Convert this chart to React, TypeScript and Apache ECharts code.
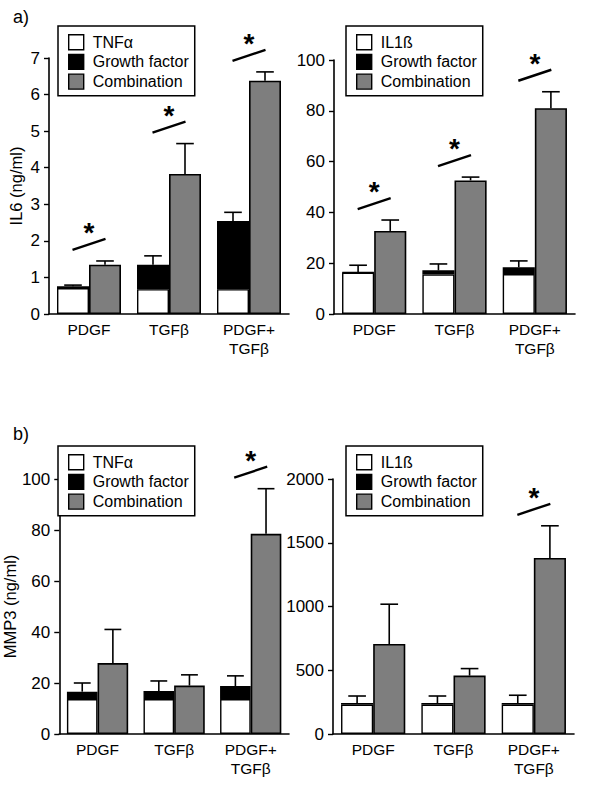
import React, { useEffect, useRef } from "react";
import * as echarts from "echarts";

const FONT = "'Liberation Sans', Arial, Helvetica, sans-serif";

const categories = ["PDGF", "TGFβ", "PDGF+\nTGFβ"];

// Panel a) left: IL6, TNFα
const il6TnfBase = [0.71, 0.68, 0.68];
const il6TnfGrowth = [0.76, 1.35, 2.54];
const il6TnfGrowthErr = [0.03, 0.24, 0.24];
const il6TnfComb = [1.35, 3.83, 6.38];
const il6TnfCombErr = [0.1, 0.83, 0.24];
const il6TnfSig = [true, true, true];

// Panel a) right: IL6, IL1ß
const il6Il1bBase = [16.3, 15.6, 15.7];
const il6Il1bGrowth = [16.5, 17.2, 18.4];
const il6Il1bGrowthErr = [2.7, 2.5, 2.5];
const il6Il1bComb = [32.7, 52.6, 81.0];
const il6Il1bCombErr = [4.3, 1.3, 6.5];
const il6Il1bSig = [true, true, true];

// Panel b) left: MMP3, TNFα
const mmpTnfBase = [13.7, 13.7, 13.7];
const mmpTnfGrowth = [16.6, 16.9, 18.8];
const mmpTnfGrowthErr = [3.4, 3.9, 4.0];
const mmpTnfComb = [27.8, 19.0, 78.5];
const mmpTnfCombErr = [13.2, 4.2, 17.7];
const mmpTnfSig = [false, false, true];

// Panel b) right: MMP3, IL1ß
const mmpIl1bBase = [230, 230, 230];
const mmpIl1bGrowth = [243, 243, 243];
const mmpIl1bGrowthErr = [55, 55, 61];
const mmpIl1bComb = [706, 458, 1381];
const mmpIl1bCombErr = [312, 55, 252];
const mmpIl1bSig = [false, false, true];

// axis scales
const il6TnfAxis = { max: 7, interval: 1 };
const il6Il1bAxis = { max: 100, interval: 20 };
const mmpTnfAxis = { max: 100, interval: 20 };
const mmpIl1bAxis = { max: 2000, interval: 500 };

const GRAY = "#7e7e7e";

type Panel = {
  cytokine: string;
  base: number[];
  growth: number[];
  growthErr: number[];
  comb: number[];
  combErr: number[];
  sig: boolean[];
  axis: { max: number; interval: number };
  yName: string;
  nameGap: number;
  grid: { left: number; top: number; width: number; height: number };
  legend: { left: number; top: number };
};

const panels: Panel[] = [
  {
    cytokine: "TNFα",
    base: il6TnfBase,
    growth: il6TnfGrowth,
    growthErr: il6TnfGrowthErr,
    comb: il6TnfComb,
    combErr: il6TnfCombErr,
    sig: il6TnfSig,
    axis: il6TnfAxis,
    yName: "IL6 (ng/ml)",
    nameGap: 25,
    grid: { left: 49, top: 58, width: 240, height: 256 },
    legend: { left: 58, top: 26 },
  },
  {
    cytokine: "IL1ß",
    base: il6Il1bBase,
    growth: il6Il1bGrowth,
    growthErr: il6Il1bGrowthErr,
    comb: il6Il1bComb,
    combErr: il6Il1bCombErr,
    sig: il6Il1bSig,
    axis: il6Il1bAxis,
    yName: "",
    nameGap: 24,
    grid: { left: 334, top: 60, width: 241, height: 254 },
    legend: { left: 346, top: 26 },
  },
  {
    cytokine: "TNFα",
    base: mmpTnfBase,
    growth: mmpTnfGrowth,
    growthErr: mmpTnfGrowthErr,
    comb: mmpTnfComb,
    combErr: mmpTnfCombErr,
    sig: mmpTnfSig,
    axis: mmpTnfAxis,
    yName: "MMP3 (ng/ml)",
    nameGap: 28,
    grid: { left: 49, top: 479, width: 240, height: 255 },
    legend: { left: 58, top: 446 },
  },
  {
    cytokine: "IL1ß",
    base: mmpIl1bBase,
    growth: mmpIl1bGrowth,
    growthErr: mmpIl1bGrowthErr,
    comb: mmpIl1bComb,
    combErr: mmpIl1bCombErr,
    sig: mmpIl1bSig,
    axis: mmpIl1bAxis,
    yName: "",
    nameGap: 24,
    grid: { left: 333, top: 479, width: 241, height: 255 },
    legend: { left: 346, top: 446 },
  },
];

function errorRender(params: any, api: any) {
  const cat = api.value(0);
  const top = api.value(1);
  const err = api.value(2);
  const side = api.value(3);
  const p0 = api.coord([cat, top]);
  const p1 = api.coord([cat, top + err]);
  const band = api.size([1, 0])[0];
  const bw = band * 0.4;
  const x = p0[0] + (side * bw) / 2;
  const cap = bw * 0.55;
  const style = { stroke: "#000", lineWidth: 1.6 };
  return {
    type: "group",
    children: [
      { type: "line", shape: { x1: x, y1: p0[1], x2: x, y2: p1[1] }, style },
      { type: "line", shape: { x1: x - cap / 2, y1: p1[1], x2: x + cap / 2, y2: p1[1] }, style },
    ],
  };
}

function sigRender(params: any, api: any) {
  const cat = api.value(0);
  const top = api.value(1);
  const p = api.coord([cat, top]);
  const cx = p[0];
  const y0 = p[1] - 16.5;
  return {
    type: "group",
    children: [
      {
        type: "line",
        shape: { x1: cx - 16.5, y1: y0 + 5.5, x2: cx + 16.5, y2: y0 - 5.5 },
        style: { stroke: "#000", lineWidth: 2.4 },
      },
      {
        type: "text",
        x: cx,
        y: y0 - 12,
        style: {
          text: "*",
          fontSize: 28,
          fontWeight: "bold",
          fontFamily: FONT,
          fill: "#000",
          align: "center",
          verticalAlign: "middle",
        },
      },
    ],
  };
}

function buildOption() {
  const grid: any[] = [];
  const xAxis: any[] = [];
  const yAxis: any[] = [];
  const legend: any[] = [];
  const series: any[] = [];

  panels.forEach((pn, i) => {
    grid.push({ ...pn.grid, containLabel: false });
    xAxis.push({
      type: "category",
      gridIndex: i,
      data: categories,
      axisLine: { lineStyle: { color: "#000", width: 1.6 } },
      axisTick: { show: false },
      axisLabel: {
        interval: 0,
        color: "#000",
        fontSize: 15.5,
        fontFamily: FONT,
        lineHeight: 19,
        margin: 6,
      },
      splitLine: { show: false },
    });
    yAxis.push({
      type: "value",
      gridIndex: i,
      min: 0,
      max: pn.axis.max,
      interval: pn.axis.interval,
      name: pn.yName,
      nameLocation: "middle",
      nameGap: pn.nameGap,
      nameTextStyle: { color: "#000", fontSize: 16.5, fontFamily: FONT },
      axisLine: { show: true, lineStyle: { color: "#000", width: 1.6 } },
      axisTick: { show: true, length: 5, lineStyle: { color: "#000", width: 1.4 } },
      axisLabel: {
        color: "#000",
        fontSize: 17,
        fontFamily: FONT,
        margin: 9,
        formatter: (v: number) => String(v),
      },
      splitLine: { show: false },
    });
    legend.push({
      left: pn.legend.left,
      top: pn.legend.top,
      orient: "vertical",
      padding: [8, 6, 6, 10],
      itemWidth: 15,
      itemHeight: 15,
      itemGap: 3.3,
      borderColor: "#000",
      borderWidth: 1.5,
      backgroundColor: "#fff",
      selectedMode: false,
      icon: "rect",
      textStyle: {
        color: "#000",
        fontSize: 16,
        fontFamily: FONT,
        lineHeight: 16,
        padding: [0, 0, 0, 4],
      },
      data: [
        { name: pn.cytokine, itemStyle: { color: "#fff", borderColor: "#000", borderWidth: 1.4 } },
        { name: "Growth factor", itemStyle: { color: "#000", borderColor: "#000", borderWidth: 1.4 } },
        { name: "Combination", itemStyle: { color: GRAY, borderColor: "#000", borderWidth: 1.4 } },
      ],
    });

    const stackId = "s" + i;
    series.push({
      type: "bar",
      name: pn.cytokine,
      xAxisIndex: i,
      yAxisIndex: i,
      stack: stackId,
      data: pn.base,
      barCategoryGap: "20%",
      barGap: "0%",
      itemStyle: { color: "#fff", borderColor: "#000", borderWidth: 1.4 },
    });
    series.push({
      type: "bar",
      name: "Growth factor",
      xAxisIndex: i,
      yAxisIndex: i,
      stack: stackId,
      data: pn.growth.map((g, k) => Math.max(g - pn.base[k], 0)),
      barCategoryGap: "20%",
      barGap: "0%",
      itemStyle: { color: "#000", borderColor: "#000", borderWidth: 1.4 },
    });
    series.push({
      type: "bar",
      name: "Combination",
      xAxisIndex: i,
      yAxisIndex: i,
      data: pn.comb,
      barCategoryGap: "20%",
      barGap: "0%",
      itemStyle: { color: GRAY, borderColor: "#000", borderWidth: 1.6 },
    });
    const errData: number[][] = [];
    pn.growth.forEach((g, k) => errData.push([k, g, pn.growthErr[k], -1]));
    pn.comb.forEach((c, k) => errData.push([k, c, pn.combErr[k], 1]));
    series.push({
      type: "custom",
      name: "errors" + i,
      xAxisIndex: i,
      yAxisIndex: i,
      renderItem: errorRender,
      data: errData,
      z: 5,
      silent: true,
    });
    const sigData: number[][] = [];
    pn.sig.forEach((s, k) => {
      if (s) sigData.push([k, pn.comb[k] + pn.combErr[k]]);
    });
    series.push({
      type: "custom",
      name: "significance" + i,
      xAxisIndex: i,
      yAxisIndex: i,
      renderItem: sigRender,
      data: sigData,
      z: 6,
      silent: true,
    });
  });

  return {
    animation: false,
    backgroundColor: "#fff",
    textStyle: { fontFamily: FONT },
    grid,
    xAxis,
    yAxis,
    legend,
    series,
    graphic: [
      {
        type: "text",
        x: 13,
        y: 17,
        style: { text: "a)", fontSize: 18, fontFamily: FONT, fill: "#000", verticalAlign: "middle" },
      },
      {
        type: "text",
        x: 13,
        y: 434,
        style: { text: "b)", fontSize: 18, fontFamily: FONT, fill: "#000", verticalAlign: "middle" },
      },
    ],
  };
}

export default function App() {
  const ref = useRef<HTMLDivElement>(null);
  useEffect(() => {
    if (!ref.current) return;
    const chart = echarts.init(ref.current, undefined, { renderer: "svg" });
    chart.setOption(buildOption() as any);
    return () => chart.dispose();
  }, []);
  return (
    <div
      ref={ref}
      style={{ position: "absolute", left: 0, top: 0, width: 600, height: 788, background: "#fff" }}
    />
  );
}
